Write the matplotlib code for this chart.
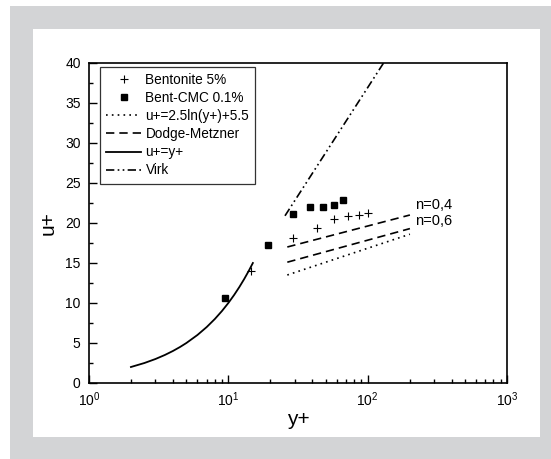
import matplotlib
matplotlib.use("Agg")
import matplotlib.pyplot as plt
from matplotlib.patches import Rectangle

plt.rcParams["font.family"] = ["Liberation Sans", "DejaVu Sans"]
plt.rcParams["mathtext.fontset"] = "custom"
plt.rcParams["mathtext.rm"] = "Liberation Sans"

# Bentonite 5% (+)
bent_x = [14.5, 29.0, 43.1, 57.7, 72.7, 86.9, 100.9]
bent_y = [14.0, 18.1, 19.4, 20.5, 20.9, 21.0, 21.2]

# Bent-CMC 0.1% (squares)
cmc_x = [9.47, 19.2, 29.0, 38.6, 47.5, 57.7, 67.0]
cmc_y = [10.6, 17.3, 21.1, 22.0, 22.0, 22.3, 22.9]

# log law u+=2.5ln(y+)+5.5 (end points, straight in semilog)
log_x = [26.5, 201.0]
log_y = [13.5, 18.6]

# Dodge-Metzner, n=0,4 and n=0,6
dm_x = [26.5, 201.0]
dm04_y = [17.0, 21.0]
dm06_y = [15.1, 19.3]

# viscous sublayer u+=y+
vis_x = [2, 2.5, 3, 3.5, 4, 4.5, 5, 6, 7, 8, 9, 10, 11, 12, 13, 14, 15]
vis_y = [2, 2.5, 3, 3.5, 4, 4.5, 5, 6, 7, 8, 9, 10, 11, 12, 13, 14, 15]

# Virk asymptote
virk_x = [25.5, 130.0]
virk_y = [20.9, 40.0]

W, H = 551, 459
fig = plt.figure(figsize=(W / 100, H / 100), dpi=100)
fig.patch.set_facecolor("white")
fig.patches.append(Rectangle((10 / W, 0), 1 - 10 / W, 1 - 6 / H, transform=fig.transFigure,
                             facecolor="#d3d4d6", edgecolor="none", zorder=0))
fig.patches.append(Rectangle((33 / W, 1 - 437 / H), (540 - 33) / W, (437 - 29) / H,
                             transform=fig.transFigure, facecolor="white", edgecolor="none", zorder=1))

ax = fig.add_axes([89 / W, 1 - 383 / H, (507 - 89) / W, (383 - 63) / H])
ax.set_zorder(2)

ax.plot(bent_x, bent_y, "k+", ms=6, mew=0.8, label="Bentonite 5%")
ax.plot(cmc_x, cmc_y, "ks", ms=5, label="Bent-CMC 0.1%")
ax.plot(log_x, log_y, color="k", ls=(0, (1, 2.5)), lw=1.2, label="u+=2.5ln(y+)+5.5")
ax.plot(dm_x, dm04_y, color="k", ls=(0, (5, 3)), lw=1.2, label="Dodge-Metzner")
ax.plot(dm_x, dm06_y, color="k", ls=(0, (5, 3)), lw=1.2)
ax.plot(vis_x, vis_y, color="k", lw=1.3, label="u+=y+")
ax.plot(virk_x, virk_y, color="k", ls=(0, (5, 2, 1, 2, 1, 2)), lw=1.2, label="Virk")

ax.text(218, 22.3, "n=0,4", fontsize=10.5, va="center")
ax.text(218, 20.2, "n=0,6", fontsize=10.5, va="center")

ax.set_xscale("log")
ax.set_xlim(1, 1000)
ax.set_ylim(0, 40)
ax.set_yticks([0, 5, 10, 15, 20, 25, 30, 35, 40])
ax.set_yticks([2.5, 7.5, 12.5, 17.5, 22.5, 27.5, 32.5, 37.5], minor=True)
ax.tick_params(which="both", direction="in", labelsize=10, width=1)
ax.tick_params(which="major", length=6)
ax.tick_params(which="minor", length=3)
ax.tick_params(axis="x", which="major", pad=5)
ax.tick_params(axis="y", which="major", pad=6)
for s in ax.spines.values():
    s.set_linewidth(1.2)

ax.set_xlabel("y+", fontsize=15, labelpad=1)
ax.set_ylabel("u+", fontsize=15, labelpad=5)

leg = ax.legend(loc="upper left", bbox_to_anchor=(0.026, 0.988), fontsize=9.8,
                frameon=True, fancybox=False, edgecolor="k", handlelength=2.6,
                handletextpad=0.3, borderpad=0.45, labelspacing=0.3, borderaxespad=0)
leg.get_frame().set_linewidth(0.9)

fig.savefig("out.png", dpi=100)
